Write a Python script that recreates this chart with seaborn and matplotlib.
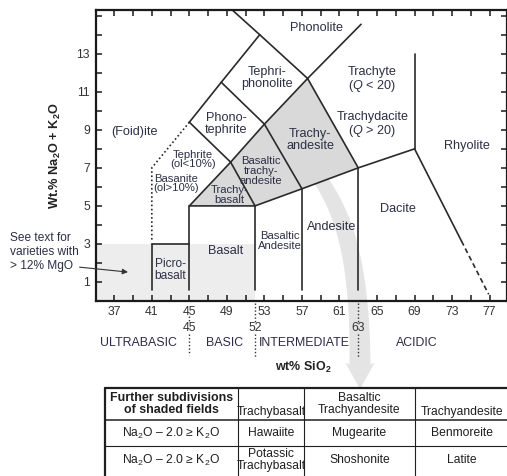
import numpy as np
import pandas as pd
import matplotlib
matplotlib.use("Agg")
import matplotlib.pyplot as plt
import seaborn as sns
from matplotlib.patches import Polygon
from matplotlib.lines import Line2D

# ------------------------------------------------------------------ data
x_ticks = list(range(37, 79, 2))
x_ticklabels = [37, 41, 45, 49, 53, 57, 61, 65, 69, 73, 77]
y_ticks = list(range(1, 16))
y_ticklabels = [1, 3, 5, 7, 9, 11, 13]

# field boundaries (SiO2 wt%, Na2O+K2O wt%)
solid_segments = {
    "picro_left": ([41, 41], [0.6, 3.0]),
    "picro_top": ([41, 45], [3.0, 3.0]),
    "v45": ([45, 45], [0.6, 5.0]),
    "v52": ([52, 52], [0.6, 5.0]),
    "v57": ([57, 57], [0.6, 5.9]),
    "v63": ([63, 63], [0.6, 7.0]),
    "base": ([45, 52, 57, 63, 69], [5.0, 5.0, 5.9, 7.0, 8.0]),
    "v69": ([69, 69], [8.0, 13.0]),
    "rhyolite": ([69, 74.0], [8.0, 3.15]),
    "trachybasalt": ([45, 49.4, 52], [5.0, 7.3, 5.0]),
    "bta": ([49.4, 53, 57], [7.3, 9.3, 5.9]),
    "ta": ([53, 57.6, 63], [9.3, 11.7, 7.0]),
    "tephrite": ([45, 49.4], [9.4, 7.3]),
    "phonotephrite": ([48.4, 53], [11.5, 9.3]),
    "foidite": ([45, 48.4, 52.5, 57.6], [9.4, 11.5, 14.0, 11.7]),
    "phonolite_left": ([52.5, 48.0], [14.0, 16.0]),
    "phonolite_right": ([57.6, 63.3], [11.7, 14.55]),
}
dashed_segments = {"rhyolite_low": ([74.0, 76.9], [3.15, 0.35])}
dotted_segments = {"basanite": ([45, 41, 41], [9.4, 7.0, 3.1])}

shaded_fields = {
    "Trachybasalt": ([45, 49.4, 52], [5.0, 7.3, 5.0]),
    "Basaltic trachyandesite": ([52, 49.4, 53, 57], [5.0, 7.3, 9.3, 5.9]),
    "Trachyandesite": ([57, 53, 57.6, 63], [5.9, 9.3, 11.7, 7.0]),
}
mgo_field = ([35, 35, 52, 52], [0.0, 3.0, 3.0, 0.0])

labels_main = [
    ("Phonolite", 58.5, 14.34),
    ("Tephri-\nphonolite", 53.25, 11.72),
    ("Trachyte\n($\\mathit{Q}$ < 20)", 64.5, 11.62),
    ("Trachydacite\n($\\mathit{Q}$ > 20)", 64.5, 9.25),
    ("Rhyolite", 74.6, 8.15),
    ("(Foid)ite", 39.2, 8.9),
    ("Phono-\ntephrite", 48.95, 9.3),
    ("Trachy-\nandesite", 57.9, 8.44),
    ("Dacite", 67.2, 4.84),
    ("Andesite", 60.16, 3.9),
    ("Basalt", 48.86, 2.64),
]
labels_small = [
    ("Tephrite\n(ol<10%)", 45.4, 7.45, "center"),
    ("Basanite\n(ol>10%)", 41.2, 6.17, "left"),
    ("Basaltic\ntrachy-\nandesite", 52.6, 6.83, "center"),
    ("Trachy-\nbasalt", 49.3, 5.56, "center"),
    ("Basaltic\nAndesite", 54.6, 3.15, "center"),
]
label_picro = ("Picro-\nbasalt", 43.0, 1.63)

boundary_values = [45, 52, 63]
class_names = ["ULTRABASIC", "BASIC", "INTERMEDIATE", "ACIDIC"]
class_x = [39.6, 48.7, 57.3, 69.2]

table_header = ["Further subdivisions\nof shaded fields", "Trachybasalt",
                "Basaltic\nTrachyandesite", "Trachyandesite"]
table_rows = [
    [r"Na$_2$O – 2.0 ≥ K$_2$O", "Hawaiite", "Mugearite", "Benmoreite"],
    [r"Na$_2$O – 2.0 ≥ K$_2$O", "Potassic\nTrachybasalt", "Shoshonite", "Latite"],
]

# ------------------------------------------------------------------ style
sns.set_style("ticks")
plt.rcParams["font.family"] = ["Liberation Sans", "DejaVu Sans"]
plt.rcParams["mathtext.fontset"] = "custom"
plt.rcParams["mathtext.rm"] = "Liberation Sans"
plt.rcParams["mathtext.it"] = "Liberation Sans:italic"
plt.rcParams["mathtext.bf"] = "Liberation Sans:bold"
plt.rcParams["mathtext.default"] = "regular"

W, H = 507, 476
fig = plt.figure(figsize=(W / 100, H / 100), dpi=100)


def fx(px):
    return px / W


def fy(py):
    return 1 - py / H


ax = fig.add_axes([fx(95.5), fy(301), 1 - fx(95.5), (301 - 10) / H])
ax.set_xlim(35, 78.85)
ax.set_ylim(0, 15.3)

LINE = "#2a2a2a"
TXT = "#2d2f45"

# shading
ax.fill(*mgo_field, color="#ededed", lw=0, zorder=0.5)
for xs, ys in shaded_fields.values():
    ax.fill(xs, ys, color="#d9d9d9", lw=0, zorder=1)


def seg_frame(segs):
    rows = []
    for name, (xs, ys) in segs.items():
        for i, (a, b) in enumerate(zip(xs, ys)):
            rows.append({"seg": name, "order": i, "x": a, "y": b})
    return pd.DataFrame(rows)


sns.lineplot(data=seg_frame(solid_segments), x="x", y="y", units="seg",
             estimator=None, sort=False, color=LINE, lw=1.2, ax=ax,
             legend=False, zorder=2)
sns.lineplot(data=seg_frame(dashed_segments), x="x", y="y", units="seg",
             estimator=None, sort=False, color=LINE, lw=1.2, ax=ax,
             legend=False, zorder=2, linestyle=(0, (3, 2)))
sns.lineplot(data=seg_frame(dotted_segments), x="x", y="y", units="seg",
             estimator=None, sort=False, color=LINE, lw=1.2, ax=ax,
             legend=False, zorder=2, linestyle=(0, (1, 1.5)))


# big curved gray arrow (figure pixel geometry)
def bez(p0, p1, p2, p3, n=80):
    t = np.linspace(0, 1, n)[:, None]
    p0, p1, p2, p3 = map(np.array, (p0, p1, p2, p3))
    return ((1 - t) ** 3) * p0 + 3 * ((1 - t) ** 2) * t * p1 + 3 * (1 - t) * t ** 2 * p2 + t ** 3 * p3


c = bez((318, 176), (343, 212), (360, 258), (360, 364))
d = np.gradient(c, axis=0)
nrm = np.stack([-d[:, 1], d[:, 0]], axis=1)
nrm /= np.linalg.norm(nrm, axis=1)[:, None]
hw = np.linspace(7, 10.5, len(c))[:, None]
left = c + nrm * hw
right = c - nrm * hw
head = np.array([[374.5, 363], [360, 389], [345.5, 363]])
if left[-1, 0] < right[-1, 0]:
    left, right = right, left
poly_px = np.vstack([left, head, right[::-1]])
poly = np.column_stack([fx(poly_px[:, 0]), fy(poly_px[:, 1])])
ax.add_patch(Polygon(poly, closed=True, facecolor="#e4e4e4", edgecolor="none",
                     transform=fig.transFigure, clip_on=False, zorder=0.8))

# axes styling
for s in ax.spines.values():
    s.set_linewidth(1.6)
    s.set_color("#1a1a1a")
ax.set_xticks(x_ticks)
ax.set_xticklabels([str(v) if v in x_ticklabels else "" for v in x_ticks])
ax.set_yticks(y_ticks)
ax.set_yticklabels([str(v) if v in y_ticklabels else "" for v in y_ticks])
ax.tick_params(direction="in", length=4.5, width=1.1, top=True, right=True,
               labelsize=8.8, labelcolor="#333333", color="#1a1a1a")
ax.tick_params(axis="x", pad=3.5)
ax.tick_params(axis="y", pad=4)
ax.set_xlabel("")
ax.set_ylabel(r"Wt.% Na$_2$O + K$_2$O", fontsize=9.2, fontweight="bold", color="#222222")
ax.yaxis.set_label_coords(-0.079, 0.5)

# field labels
for s, x, y in labels_main:
    ax.text(x, y, s, ha="center", va="center", fontsize=9.1, color=TXT,
            linespacing=1.0, zorder=3)
for s, x, y, ha in labels_small:
    ax.text(x, y, s, ha=ha, va="center", fontsize=8.1, color=TXT,
            linespacing=0.95, zorder=3)
ax.text(label_picro[1], label_picro[2], label_picro[0], ha="center", va="center",
        fontsize=8.6, color=TXT, linespacing=1.0, zorder=3)

# MgO note with arrow
ax.text(25.9, 2.59, "See text for\nvarieties with\n> 12% MgO", ha="left", va="center",
        fontsize=8.6, color=TXT, linespacing=1.2, clip_on=False, zorder=3)
ax.annotate("", xy=(38.46, 1.52), xytext=(33.3, 1.78),
            arrowprops=dict(arrowstyle="-|>", color="#333333", lw=0.8,
                            mutation_scale=8, shrinkA=0, shrinkB=0),
            annotation_clip=False, zorder=3)

# below-axis annotations
xt = ax.get_xaxis_transform()


def af(py):
    return (301 - py) / 291


for v in boundary_values:
    ax.text(v, af(328), str(v), ha="center", va="center", fontsize=8.8,
            color="#333333", transform=xt, clip_on=False, zorder=3)
dotted_px = {45: [(316, 323), (334, 355)], 52: [(303, 322), (334, 358)],
             63: [(303, 322), (334, 358)]}
for v, parts in dotted_px.items():
    for a, b in parts:
        ax.plot([v, v], [af(a), af(b)], transform=xt, clip_on=False, color="#333333",
                lw=1.0, linestyle=(0, (1, 1.5)), zorder=3)
for name, x in zip(class_names, class_x):
    ax.text(x, af(343), name, ha="center", va="center", fontsize=8.9,
            color="#2e2a48", transform=xt, clip_on=False, zorder=3)
ax.text(57.1, af(367), r"wt% SiO$_2$", ha="center", va="center", fontsize=9,
        fontweight="bold", color="#222222", transform=xt, clip_on=False, zorder=3)

# ------------------------------------------------------------------ table
col_edges = [105, 238, 304, 415, 520]
TC = "#1f1f1f"
for y, lw in [(388, 1.6), (420, 1.1), (446, 0.8)]:
    fig.add_artist(Line2D([fx(105), fx(520)], [fy(y), fy(y)], lw=lw, color=TC))
for x, lw in zip(col_edges[:-1], [1.6, 0.8, 0.8, 0.8]):
    fig.add_artist(Line2D([fx(x), fx(x)], [fy(388), fy(490)], lw=lw, color=TC))

centers = [(col_edges[i] + col_edges[i + 1]) / 2 for i in range(4)]
centers[3] = 462
for i, s in enumerate(table_header):
    yy = 404 if "\n" in s else 412
    fig.text(fx(centers[i]), fy(yy), s, ha="center", va="center",
             fontsize=8.9 if i == 0 else 8.7, color=TC, linespacing=1.05,
             fontweight="bold" if i == 0 else "normal")
for r, row in enumerate(table_rows):
    yy = [433, 460][r]
    for i, s in enumerate(row):
        fig.text(fx(centers[i]), fy(yy), s, ha="center", va="center",
                 fontsize=8.7, color=TC, linespacing=1.05)

fig.savefig("out.png", dpi=100)
